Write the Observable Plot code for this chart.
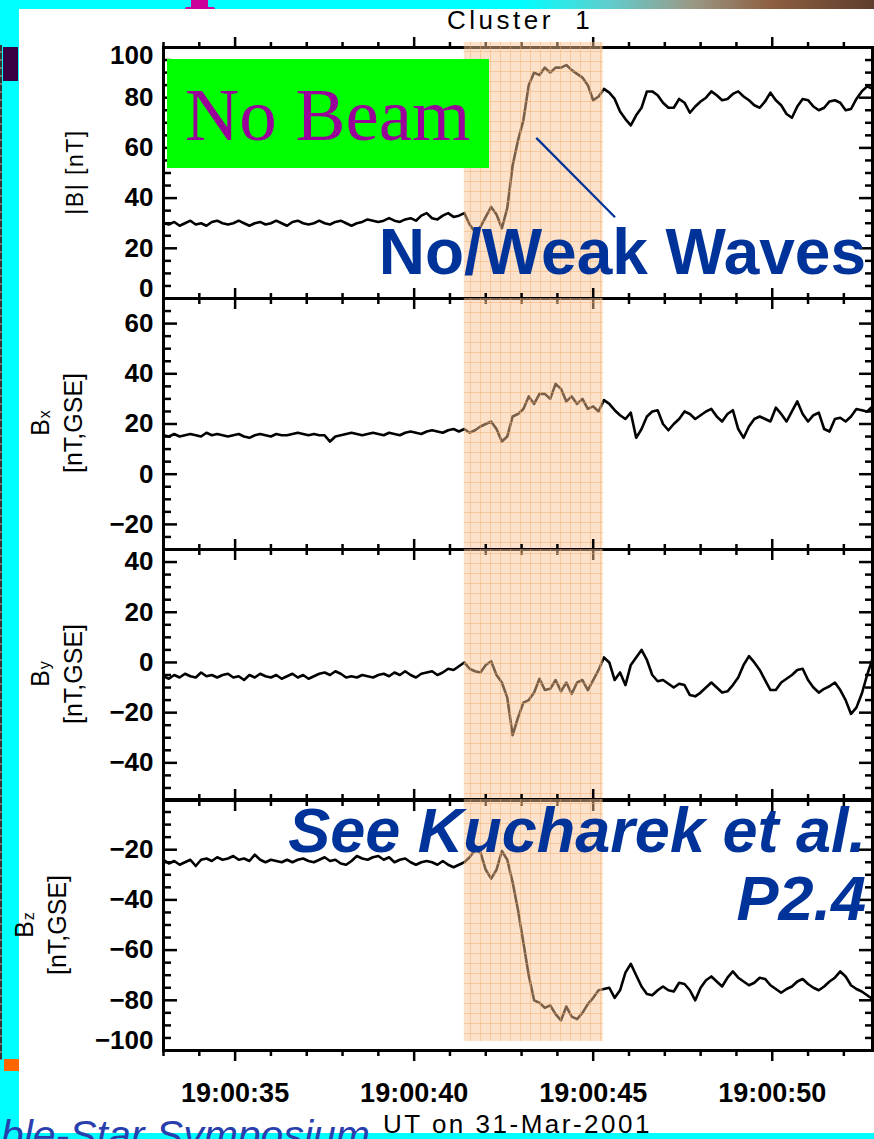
<!DOCTYPE html>
<html>
<head>
<meta charset="utf-8">
<title>Cluster 1 magnetic field, 31 March 2001</title>
<script src="https://cdn.jsdelivr.net/npm/d3@7"></script>
<script src="https://cdn.jsdelivr.net/npm/@observablehq/plot@0.6"></script>
<style>
  html, body { margin: 0; padding: 0; }
  body {
    width: 874px; height: 1139px; overflow: hidden; position: relative;
    background: #00ffff; font-family: "Liberation Sans", Arial, sans-serif; color: #000;
  }
  .abs { position: absolute; }
  #topband {
    left: 0; top: 0; width: 874px; height: 9px;
    background: linear-gradient(to right, #00ffff 0, #00ffff 520px, #62cccc 610px, #9a9a88 690px, #8e5f42 770px, #5e3e2c 874px);
  }
  #sheet { left: 19px; top: 9px; width: 855px; height: 1124px; background: #fff; }
  #edge {
    left: 0; top: 45px; width: 2px; height: 1015px;
    background: repeating-linear-gradient(to bottom, #333 0 6px, #777 6px 8px);
  }
  #mark1 { left: 3px; top: 47px; width: 15px; height: 34px; background: #3a0044; }
  #mark2 { left: 4px; top: 1059px; width: 15px; height: 12px; background: #ff6600; }
  #serifStem { left: 191px; top: 0; width: 17px; height: 9px; background: #cc0099; }
  #serifFoot { left: 185px; top: 7px; width: 30px; height: 5px; background: #cc0099; border-radius: 2px; }
  .ytitle {
    position: absolute; transform: translate(-50%, -50%) rotate(-90deg);
    white-space: nowrap; text-align: center; font-size: 25px; line-height: 28px;
  }
  .ytitle sub { font-size: 16px; vertical-align: -1px; margin-left: 1px; }
  #cluster { left: 447px; top: 7px; font-size: 26px; line-height: 26px; letter-spacing: 3.5px; white-space: pre; }
  #utlabel { left: 383px; top: 1111px; font-size: 26px; line-height: 26px; letter-spacing: 2.5px; white-space: pre; }
  #beam {
    left: 167px; top: 59px; width: 322px; height: 109px; background: #00ff00;
    font-family: "Liberation Serif", "Times New Roman", serif; color: #990099;
    font-size: 75px; line-height: 75px; box-sizing: border-box; padding: 18px 0 0 18px; white-space: nowrap;
  }
  .callout {
    position: absolute; right: 8px; text-align: right; white-space: nowrap;
    color: #003399; font-weight: bold; line-height: 1;
  }
  #waves { top: 220px; font-size: 64px; }
  #see { top: 799px; font-size: 63px; font-style: italic; }
  #poster { top: 867px; font-size: 63px; font-style: italic; }
  #symposium {
    right: 504px; top: 1115px; font-size: 41px; line-height: 41px; font-style: italic;
    color: #2a3fae; white-space: nowrap;
  }
</style>
</head>
<body>
<svg width="0" height="0" style="position:absolute">
  <defs>
    <pattern id="shadeGrid" width="10" height="10" patternUnits="userSpaceOnUse">
      <path d="M0 0.5H10M0.5 0V10" stroke="#f4a868" stroke-width="1" stroke-opacity="0.45" fill="none"/>
    </pattern>
  </defs>
</svg>
<div class="abs" id="topband"></div>
<div class="abs" id="serifStem"></div>
<div class="abs" id="serifFoot"></div>
<div class="abs" id="sheet"></div>
<div class="abs" id="edge"></div>
<div class="abs" id="mark1"></div>
<div class="abs" id="mark2"></div>
<div class="abs" id="cluster">Cluster  1</div>

<script>
// Cluster 1 FGM magnetic field, 31 March 2001, one reading every 0.15 s from 19:00:33 UT
const startSecond = 33.0;
const stepSecond = 0.15;

// |B| [nT]
const bMag = [
  30, 29.5, 30.5, 29, 30, 31, 29.5, 30, 29, 30.5,
  31, 30, 29.5, 30, 31, 30, 29, 30, 30.5, 29.5,
  30, 31, 30, 29, 30.5, 31, 30, 29.5, 30, 31,
  30, 29.5, 30.5, 31, 30, 29, 30, 30.5, 31.5, 31,
  30.5, 31, 32, 31, 30.5, 31.5, 32, 31, 33, 34,
  32, 31.5, 33, 34, 32.5, 33, 34, 29.5, 26.5, 28.5,
  32.5, 36.5, 33.5, 28, 36, 53, 63, 71, 85, 90,
  89, 92, 90, 92, 92, 93, 91, 89.5, 88, 85,
  79, 80.5, 83.5, 82, 79.5, 74.5, 71.5, 69, 73, 76,
  82.5, 82.5, 81, 78, 76, 76, 79.5, 78, 74, 76.5,
  78.5, 80, 82.5, 81, 79, 79.5, 81.5, 82.5, 80.5, 79,
  77, 76, 78.5, 82, 79, 77, 73.5, 72, 76.5, 79.5,
  79, 76.5, 75, 76, 78.5, 79, 78, 75, 75.5, 79.5,
  82.5, 84.5, 83.5
];

// Bx GSE [nT]
const bX = [
  15.5, 15, 16, 15, 15.5, 16, 15.5, 15, 16.5, 15.5,
  16, 15.5, 15, 15.5, 16, 15, 14.5, 15.5, 16, 15.5,
  15, 16, 15.5, 15.5, 16, 16.5, 16, 15.5, 16, 15.5,
  15.5, 13, 15, 15.5, 16, 16.5, 16, 15.5, 16, 16.5,
  16, 15.5, 16.5, 16, 15.5, 16.5, 17, 16.5, 16, 17,
  17.5, 17, 16.5, 17.5, 18, 17, 18, 16.5, 17.5, 19,
  20, 21, 18, 13, 15, 23, 24, 26, 31, 28,
  32, 32, 30, 36, 34, 29, 31, 28, 30, 26,
  27, 25, 29.5, 28, 25.5, 23.5, 22, 24.5, 14.5, 18,
  23, 25, 25.5, 20, 17.5, 20, 22, 25, 24, 22,
  23.5, 25, 26, 23, 21, 24, 25.5, 18, 14.5, 19,
  22, 23, 22, 21, 26.5, 24, 21, 25, 29, 24,
  21, 23.5, 24.5, 18, 17, 22, 22.5, 21, 23, 26,
  25.5, 25, 27
];

// By GSE [nT]
const bY = [
  -5.5, -6.5, -5, -6, -4.5, -5.5, -6, -4, -5.5, -5,
  -6, -5, -4.5, -6, -5.5, -7, -5, -6, -4.5, -5.5,
  -6, -5, -6.5, -5.5, -4.5, -6, -5, -6.5, -5.5, -4.5,
  -4, -5, -3.5, -4.5, -6, -5.5, -6, -5, -5.5, -6,
  -5, -4.5, -5.5, -4, -5, -3.5, -5, -6, -4.5, -4,
  -3.5, -5, -4, -2.5, -3, -1.5, 0, -2.5, -3.5, -4,
  -1, 0.5, -5, -8, -14, -29, -22, -16, -15, -12,
  -6.5, -11, -10.5, -7, -11.5, -8, -12.5, -8, -7, -11,
  -7, -3, 2, 0, -7, -4, -9, -1, 2, 5,
  1, -5, -7.5, -7, -8.5, -10, -8.5, -9, -13, -13.5,
  -12, -10, -8, -10, -12, -11.5, -9, -6, -1, 2.5,
  0, -3, -7, -11, -11, -8, -6.5, -5, -3, -2.5,
  -7, -10, -12, -10.5, -9.5, -8, -11, -15, -20.5, -18,
  -12.5, -5, 1.5
];

// Bz GSE [nT]
const bZ = [
  -24, -25.5, -24.5, -26, -25, -24, -26.5, -24, -23.5, -24.5,
  -23, -24, -23.5, -22.5, -24, -23.5, -24.5, -22, -24, -25,
  -24, -24.5, -25, -24, -25, -24, -23.5, -24.5, -25, -24,
  -23, -24.5, -24, -25.5, -26, -24.5, -22.5, -23.5, -24, -23,
  -22.5, -24, -23, -25, -24, -23.5, -25, -26, -25, -24.5,
  -25, -26, -24.5, -26, -27, -26, -25, -23, -20, -21,
  -28, -31.5, -28, -20.5, -24, -33, -44, -57, -70, -80,
  -81, -83, -82, -85.5, -88, -82.5, -86.5, -87.5, -85, -81.5,
  -79, -76, -75.5, -75, -79, -76, -69, -65.5, -70, -74.5,
  -77.5, -78, -76, -74.5, -76, -76.5, -73, -73.5, -76, -80,
  -75, -72, -70.5, -72.5, -74.5, -71, -68.5, -71, -72.5, -74,
  -73, -71, -71.5, -74, -75.5, -77, -75.5, -74.5, -72.5, -71.5,
  -73.5, -75, -76, -74.5, -72.5, -71, -68.5, -70.5, -74, -75.5,
  -76.5, -78, -79.5
];

// plotted time window and the highlighted interval, seconds after 19:00:00 UT
const windowSeconds = [33.0, 52.8];
const shadeSeconds = [41.4, 45.28];
const majorTickSeconds = [35, 40, 45, 50];
const minorTickSeconds = [33, 34, 36, 37, 38, 39, 41, 42, 43, 44, 46, 47, 48, 49, 51, 52];

// pointer from the |B| jump toward the "No/Weak Waves" note: [seconds, nT]
const pointerFrom = [43.41, 64];
const pointerTo = [45.61, 32.4];

const panelTitles = ["|B| [nT]", "B<sub>x</sub><br>[nT,GSE]", "B<sub>y</sub><br>[nT,GSE]", "B<sub>z</sub><br>[nT,GSE]"];
const panelDomains = [[0, 100], [-30, 70], [-55, 45], [-100, 0]];
const panelLabels = [[0, 20, 40, 60, 80, 100], [-20, 0, 20, 40, 60], [-40, -20, 0, 20, 40], [-100, -80, -60, -40, -20]];
const panelShade = [[0, 102], [-30, 70], [-55, 45], [-96.4, 0]];
const panelSeries = [bMag, bX, bY, bZ];

const dayStart = Date.UTC(2001, 2, 31, 19, 0, 0);
const toDate = (s) => new Date(dayStart + s * 1000);
const timeFormat = d3.utcFormat("%H:%M:%S");

// layout of the stacked panels (pixels)
const frameTop = 47, frameHeight = 250.75, padTop = 16, padBottom = 16, padBottomLast = 80;
const fontStack = "'Liberation Sans', Arial, sans-serif";

panelSeries.forEach((values, p) => {
  const rows = values.map((v, i) => ({time: toDate(startSecond + i * stepSecond), value: v}));
  const [lo, hi] = panelDomains[p];
  const minor = d3.range(lo, hi + 0.001, 5).filter((v) => v % 20 !== 0);
  const major = d3.range(Math.ceil(lo / 20) * 20, hi + 0.001, 20);
  const last = p === panelSeries.length - 1;
  const mb = last ? padBottomLast : padBottom;
  const shade = [{x1: toDate(shadeSeconds[0]), x2: toDate(shadeSeconds[1]), y1: panelShade[p][0], y2: panelShade[p][1]}];
  const labels = panelLabels[p];
  const labelStyle = {anchor: "left", tickSize: 0, tickPadding: 10, fontSize: 26, fontWeight: "bold", label: null};

  const marks = [
    Plot.lineY(rows, {x: "time", y: "value", stroke: "black", strokeWidth: 2.6, strokeLinejoin: "round"}),
    Plot.frame({stroke: "black", strokeWidth: 3}),
    // time ticks on top and bottom of every panel
    Plot.axisX({anchor: "top", ticks: majorTickSeconds.map(toDate), tickSize: 11, strokeWidth: 2.5, tickFormat: () => "", label: null}),
    Plot.axisX({anchor: "top", ticks: minorTickSeconds.map(toDate), tickSize: 6, strokeWidth: 2.5, tickFormat: () => "", label: null}),
    Plot.axisX({anchor: "bottom", ticks: majorTickSeconds.map(toDate), tickSize: 11, strokeWidth: 2.5, tickFormat: () => "", label: null}),
    Plot.axisX({anchor: "bottom", ticks: minorTickSeconds.map(toDate), tickSize: 6, strokeWidth: 2.5, tickFormat: () => "", label: null}),
    // inward value ticks on both sides
    Plot.axisY({anchor: "right", frameAnchor: "left", ticks: major, tickSize: 13, strokeWidth: 2.5, tickFormat: () => "", label: null}),
    Plot.axisY({anchor: "right", frameAnchor: "left", ticks: minor, tickSize: 7, strokeWidth: 2.5, tickFormat: () => "", label: null}),
    Plot.axisY({anchor: "left", frameAnchor: "right", ticks: major, tickSize: 13, strokeWidth: 2.5, tickFormat: () => "", label: null}),
    Plot.axisY({anchor: "left", frameAnchor: "right", ticks: minor, tickSize: 7, strokeWidth: 2.5, tickFormat: () => "", label: null}),
    // value labels; the ones at the panel edges are nudged inside the frame
    Plot.axisY({...labelStyle, ticks: labels.filter((v) => v !== lo && v !== hi)}),
    Plot.axisY({...labelStyle, ticks: labels.filter((v) => v === hi), dy: 8}),
    Plot.axisY({...labelStyle, ticks: labels.filter((v) => v === lo), dy: -10}),
    // highlighted interval, laid over the trace
    Plot.rect(shade, {x1: "x1", x2: "x2", y1: "y1", y2: "y2", fill: "rgb(249,196,147)", fillOpacity: 0.49}),
    Plot.rect(shade, {x1: "x1", x2: "x2", y1: "y1", y2: "y2", fill: "url(#shadeGrid)"})
  ];
  if (p === 0) {
    marks.push(Plot.link([{x1: toDate(pointerFrom[0]), y1: pointerFrom[1], x2: toDate(pointerTo[0]), y2: pointerTo[1]}],
      {x1: "x1", y1: "y1", x2: "x2", y2: "y2", stroke: "#003399", strokeWidth: 2.2}));
  }
  if (last) {
    marks.push(Plot.axisX({anchor: "bottom", ticks: majorTickSeconds.map(toDate), tickSize: 0, tickPadding: 32,
      tickFormat: timeFormat, fontSize: 27, fontWeight: "bold", label: null}));
  }

  const chart = Plot.plot({
    width: 874,
    height: Math.round(frameHeight) + padTop + mb,
    marginLeft: 163, marginRight: 2, marginTop: padTop, marginBottom: mb,
    style: {overflow: "visible", background: "transparent", fontFamily: fontStack},
    x: {type: "utc", domain: windowSeconds.map(toDate)},
    y: {domain: [lo, hi]},
    marks
  });
  chart.style.position = "absolute";
  chart.style.left = "0px";
  chart.style.top = (frameTop + p * frameHeight - padTop) + "px";
  document.body.appendChild(chart);

  const title = document.createElement("div");
  title.className = "ytitle";
  title.innerHTML = panelTitles[p];
  const cx = p === 0 ? 75 : (p === 3 ? 40 : 56);
  title.style.left = cx + "px";
  title.style.top = (frameTop + (p + 0.5) * frameHeight) + "px";
  if (p === 0) { title.style.letterSpacing = "1.5px"; title.style.fontSize = "23px"; }
  document.body.appendChild(title);
});

// slide annotations over the panels
const notes = [
  ["beam", "abs", "No Beam"],
  ["waves", "callout", "No/Weak Waves"],
  ["see", "callout", "See Kucharek et al."],
  ["poster", "callout", "P2.4"],
  ["utlabel", "abs", "UT on 31-Mar-2001"],
  ["symposium", "abs", "Double-Star Symposium"]
];
for (const [id, cls, text] of notes) {
  const el = document.createElement("div");
  el.id = id;
  el.className = cls;
  el.textContent = text;
  document.body.appendChild(el);
}
</script>
</body>
</html>
